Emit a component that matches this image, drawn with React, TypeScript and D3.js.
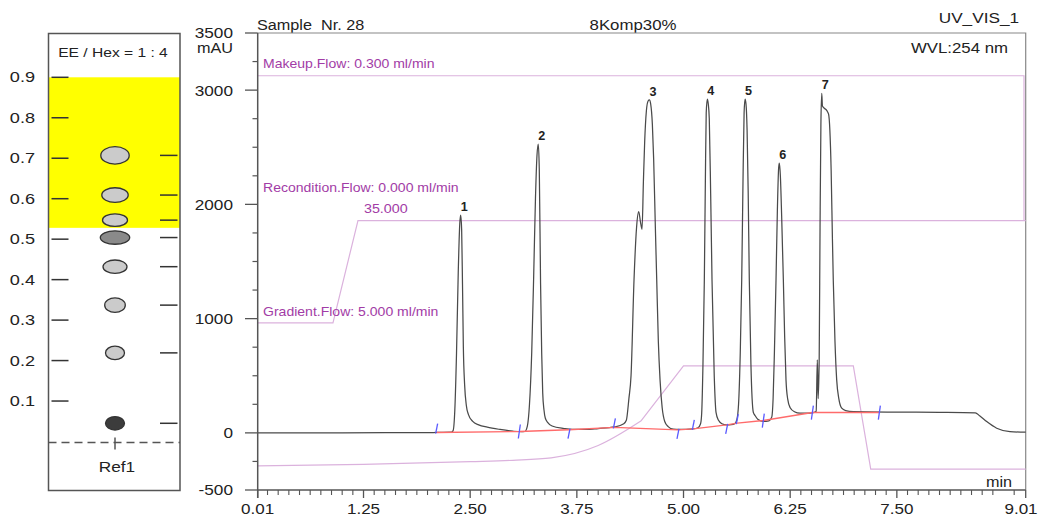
import * as d3 from 'd3';
import type { ReactNode } from 'react';

const FONT = '"Liberation Sans", Arial, Helvetica, sans-serif';

// ---- TLC plate (left panel) ----
const rfTicks = [0.1, 0.2, 0.3, 0.4, 0.5, 0.6, 0.7, 0.8, 0.9];
const spotRf = [0.707, 0.609, 0.547, 0.504, 0.432, 0.337, 0.219, 0.045];
const spotKind = ['pale', 'pale', 'pale', 'mid', 'pale', 'pale', 'pale', 'dark'];
const fractionBand = [0.528, 0.9];
const solvent = 'EE / Hex = 1 : 4';
const lane = 'Ref1';

// ---- chromatogram ----
const xMajor = [0.01, 1.25, 2.5, 3.75, 5.0, 6.25, 7.5, 9.01];
const xMajorLabels = ['0.01', '1.25', '2.50', '3.75', '5.00', '6.25', '7.50', '9.01'];
const yMajor = [-500, 0, 1000, 2000, 3000, 3500];

// UV trace, [min, mAU]
const signal: [number, number][] = [
  [0.01, 0], [1.0, 1], [2.0, 2], [2.11, 4], [2.28, 6], [2.3, 20], [2.32, 200], [2.34, 700],
  [2.36, 1400], [2.378, 1830], [2.389, 1905], [2.4, 1780], [2.41, 1300], [2.42, 750],
  [2.435, 420], [2.455, 240], [2.48, 160], [2.53, 100], [2.6, 70], [2.7, 50], [2.85, 30],
  [3.0, 15], [3.1, 10], [3.14, 12], [3.17, 60], [3.195, 250], [3.221, 700], [3.245, 1400],
  [3.265, 2050], [3.283, 2430], [3.298, 2528], [3.31, 2300], [3.325, 1300], [3.338, 700],
  [3.35, 350], [3.365, 200], [3.38, 130], [3.41, 90], [3.46, 60], [3.6, 38], [3.7, 30],
  [3.85, 30], [4.0, 38], [4.19, 52], [4.3, 80], [4.33, 110], [4.36, 300], [4.385, 500],
  [4.42, 1340], [4.45, 1800], [4.475, 1936], [4.495, 1850], [4.514, 1782], [4.53, 2200],
  [4.545, 2550], [4.565, 2820], [4.585, 2905], [4.6, 2914], [4.615, 2880], [4.635, 2700],
  [4.65, 2400], [4.67, 1800], [4.686, 1340], [4.705, 800], [4.725, 464], [4.75, 220],
  [4.78, 100], [4.82, 55], [4.88, 32], [4.95, 30], [5.11, 35], [5.17, 45], [5.2, 80],
  [5.213, 172], [5.228, 600], [5.244, 1339], [5.256, 2200], [5.266, 2800], [5.279, 2922],
  [5.29, 2880], [5.302, 2750], [5.318, 2100], [5.334, 1339], [5.36, 500], [5.381, 180],
  [5.41, 110], [5.45, 80], [5.506, 70], [5.56, 72], [5.6, 80], [5.625, 115], [5.645, 250],
  [5.665, 700], [5.682, 1339], [5.697, 2200], [5.71, 2800], [5.721, 2922], [5.732, 2880],
  [5.745, 2650], [5.758, 2100], [5.771, 1339], [5.79, 600], [5.818, 180], [5.84, 150],
  [5.87, 120], [5.935, 100], [6.0, 105], [6.035, 140], [6.05, 300], [6.065, 700],
  [6.084, 1339], [6.1, 1950], [6.115, 2320], [6.123, 2360], [6.135, 2250], [6.15, 1900],
  [6.17, 1339], [6.185, 850], [6.201, 464], [6.22, 300], [6.25, 220], [6.3, 185],
  [6.365, 172], [6.45, 172], [6.52, 178], [6.555, 190], [6.568, 640], [6.578, 300],
  [6.59, 650], [6.6, 1800], [6.61, 2700], [6.62, 2972], [6.628, 2860], [6.65, 2841],
  [6.68, 2820], [6.7, 2790], [6.715, 2650], [6.73, 2300], [6.745, 1700], [6.755, 1339],
  [6.775, 800], [6.795, 464], [6.82, 300], [6.854, 216], [6.9, 195], [6.99, 186],
  [7.5, 182], [8.0, 180], [8.42, 176], [8.47, 150], [8.553, 99], [8.67, 41], [8.826, 11],
  [9.01, 6],
];

// integration baseline and its marks
const baseline: [number, number][] = [
  [2.107, 3], [3.076, 12], [3.658, 28], [4.19, 48], [4.935, 26], [5.115, 35],
  [5.506, 70], [5.63, 85], [5.935, 108], [6.51, 178], [7.295, 178],
];
const baselineMark = ['up', 'mid', 'down', 'up', 'down', 'up', 'down', 'up', 'mid', 'mid', 'mid'];

const peakNo = ['1', '2', '3', '4', '5', '6', '7'];
const peakTime = [2.389, 3.298, 4.6, 5.279, 5.721, 6.123, 6.62];
const peakHeight = [1905, 2528, 2914, 2922, 2922, 2360, 2972];

// pump programme traces, drawn on the mAU scale
const makeupFlow: [number, number][] = [[0.01, 3126], [8.99, 3126], [8.99, 1858]];
const gradientFlow: [number, number][] = [[0.01, 962], [0.892, 962], [1.185, 1858], [9.01, 1858]];
const percentBCurve: [number, number][] = [
  [0.01, -289], [1.25, -276], [2.5, -252], [3.0, -240], [3.45, -219], [4.0, -111], [4.5, 103],
];
const percentBSteps: [number, number][] = [
  [4.5, 103], [5.0, 586], [6.99, 586], [7.194, -317], [9.01, -317],
];

// text squeezed/stretched horizontally like the scanned original
function T({ x, y, size, sx = 1, anchor = 'start', weight, fill = '#222', children }: {
  x: number; y: number; size: number; sx?: number; anchor?: string; weight?: string; fill?: string; children: ReactNode;
}) {
  return (
    <text transform={`translate(${x},${y}) scale(${sx},1)`} fontSize={size} textAnchor={anchor}
      fontWeight={weight} fill={fill} style={{ whiteSpace: 'pre' }}>
      {children}
    </text>
  );
}

export default function App() {
  const W = 1040;
  const H = 518;

  const x = d3.scaleLinear().domain([0.01, 9.01]).range([257.7, 1025.7]);
  const y = d3.scaleLinear().domain([-500, 3500]).range([490, 33]);
  const rf = d3.scaleLinear().domain([0, 0.9]).range([441.5, 77.3]);

  const line = d3.line<[number, number]>().x(d => x(d[0])).y(d => y(d[1]));
  const smooth = d3.line<[number, number]>().x(d => x(d[0])).y(d => y(d[1])).curve(d3.curveMonotoneX);

  const xMinor = d3.range(1, 72).filter(k => k % 10 !== 0).map(k => k * 0.125);
  const yMinor = d3.range(-500, 3500, 250).filter(v => !yMajor.includes(v));

  const spotSize = [[14.2, 8.7], [13.2, 7.3], [12.5, 6.3], [14.7, 6.7], [12, 6.7], [10.3, 7.2], [9.5, 6.7], [9.5, 6.7]];
  const spotFill: Record<string, string> = { pale: '#cbcbcb', mid: '#8a8a8a', dark: '#3c3c3c' };

  const plateL = 48.5, plateR = 180, plateT = 33.5, plateB = 490.5, laneX = 115;
  const purple = '#a23ca6';
  const pink = '#dbb2dd';

  return (
    <svg width={W} height={H} style={{ position: 'absolute', left: 0, top: 0, background: '#fff' }} fontFamily={FONT}>
      {/* TLC plate */}
      <rect x={plateL} y={rf(fractionBand[1])} width={plateR - plateL} height={rf(fractionBand[0]) - rf(fractionBand[1])} fill="#ffff00" />
      <rect x={plateL} y={plateT} width={plateR - plateL} height={plateB - plateT} fill="none" stroke="#555" strokeWidth={1.5} />
      <T x={113} y={57} size={13} sx={1.2} anchor="middle">{solvent}</T>
      {rfTicks.map(v => (
        <g key={v}>
          <line x1={51.5} x2={68.5} y1={rf(v)} y2={rf(v)} stroke="#333" strokeWidth={1.5} />
          <T x={35} y={rf(v) + 5} size={14.5} sx={1.25} anchor="end">{v.toFixed(1)}</T>
        </g>
      ))}
      {spotRf.map((v, i) => (
        <g key={i}>
          <line x1={160} x2={177.5} y1={rf(v)} y2={rf(v)} stroke="#333" strokeWidth={1.5} />
          <ellipse cx={laneX} cy={rf(v)} rx={spotSize[i][0]} ry={spotSize[i][1]} fill={spotFill[spotKind[i]]} stroke="#333" strokeWidth={1.3} />
        </g>
      ))}
      <line x1={plateL} x2={plateR} y1={rf(0) + 1} y2={rf(0) + 1} stroke="#555" strokeWidth={1.5} strokeDasharray="8 5" />
      <line x1={laneX} x2={laneX} y1={rf(0) - 4} y2={rf(0) + 8} stroke="#555" strokeWidth={1.5} />
      <T x={laneX + 2} y={471.5} size={15} sx={1.15} anchor="middle">{lane}</T>

      {/* header */}
      <T x={257} y={30} size={14.5} sx={1.12}>{'Sample  Nr. 28'}</T>
      <T x={633} y={30} size={14.5} sx={1.16} anchor="middle">8Komp30%</T>
      <T x={1019} y={22.5} size={15.5} sx={1.11} anchor="end">UV_VIS_1</T>
      <T x={1008} y={52.5} size={15} sx={1.12} anchor="end">WVL:254 nm</T>

      {/* frame */}
      <path d={`M${x(0.01)},${y(3500)}H${x(9.01)}V${y(-500)}`} fill="none" stroke="#888" strokeWidth={1.2} />

      {/* pump programme */}
      <path d={line(makeupFlow) ?? ''} fill="none" stroke={pink} strokeWidth={1.2} />
      <path d={line(gradientFlow) ?? ''} fill="none" stroke={pink} strokeWidth={1.2} />
      <path d={smooth(percentBCurve) ?? ''} fill="none" stroke={pink} strokeWidth={1.2} />
      <path d={line(percentBSteps) ?? ''} fill="none" stroke={pink} strokeWidth={1.2} />
      <T x={263} y={y(3126) - 8} size={13} sx={1.08} fill={purple}>Makeup.Flow: 0.300 ml/min</T>
      <T x={263} y={191.5} size={13} sx={1.08} fill={purple}>Recondition.Flow: 0.000 ml/min</T>
      <T x={x(1.185) + 6} y={y(1858) - 7.5} size={13} sx={1.1} fill={purple}>35.000</T>
      <T x={263} y={y(962) - 6.5} size={13} sx={1.08} fill={purple}>Gradient.Flow: 5.000 ml/min</T>

      {/* trace */}
      <path d={smooth(signal) ?? ''} fill="none" stroke="#4a4a4a" strokeWidth={1.25} />
      <path d={line(baseline) ?? ''} fill="none" stroke="#ff6b6b" strokeWidth={1.4} />
      {baseline.map((d, i) => {
        const px = x(d[0]);
        const py = y(d[1]);
        const [a, b] = baselineMark[i] === 'up' ? [-9, 1] : baselineMark[i] === 'down' ? [-1, 9] : [-7, 7];
        return <line key={i} x1={px - 1} y1={py + b} x2={px + 1} y2={py + a} stroke="#5a5aff" strokeWidth={1.3} />;
      })}
      {peakNo.map((p, i) => (
        <T key={p} x={x(peakTime[i]) + 3.5} y={y(peakHeight[i]) - 4} size={12} sx={1.05} weight="bold" anchor="middle">{p}</T>
      ))}

      {/* y axis */}
      <line x1={x(0.01)} x2={x(0.01)} y1={y(3500)} y2={y(-500) + 8} stroke="#555" strokeWidth={1.5} />
      {yMajor.map(v => (
        <g key={v}>
          <line x1={245} x2={x(0.01)} y1={y(v)} y2={y(v)} stroke="#555" strokeWidth={1.3} />
          <T x={233} y={y(v) + 5.4} size={15.5} sx={1.11} anchor="end">{v}</T>
        </g>
      ))}
      {yMinor.map(v => (
        <line key={v} x1={252.5} x2={x(0.01)} y1={y(v)} y2={y(v)} stroke="#555" strokeWidth={1.2} />
      ))}
      <T x={233} y={53} size={14.5} sx={1.12} anchor="end">mAU</T>

      {/* x axis */}
      <line x1={x(0.01)} x2={x(9.01)} y1={y(-500)} y2={y(-500)} stroke="#555" strokeWidth={1.5} />
      {xMajor.map((v, i) => (
        <g key={v}>
          <line x1={x(v)} x2={x(v)} y1={y(-500)} y2={y(-500) + 8} stroke="#555" strokeWidth={1.3} />
          <T x={Math.min(x(v), W - 19)} y={514} size={15.5} sx={1.1} anchor="middle">{xMajorLabels[i]}</T>
        </g>
      ))}
      {xMinor.map(v => (
        <line key={v} x1={x(v)} x2={x(v)} y1={y(-500)} y2={y(-500) + 5} stroke="#555" strokeWidth={1.1} />
      ))}
      <T x={1012} y={487} size={15} sx={1.08} anchor="end">min</T>
    </svg>
  );
}
